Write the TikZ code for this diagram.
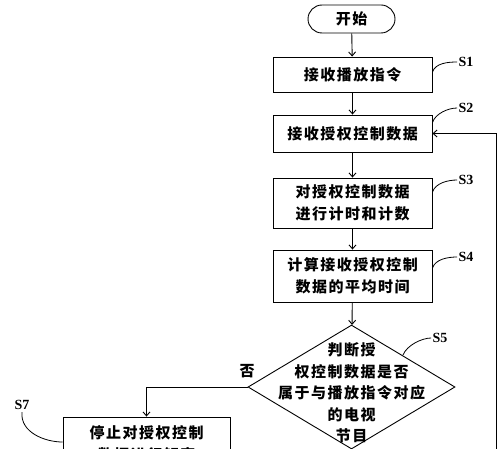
\documentclass[tikz,border=0pt]{standalone}
\usepackage{fontspec}
\setmainfont{Liberation Serif}
\newfontfamily\cjk{Noto Sans CJK SC}[LetterSpace=10]
\usetikzlibrary{arrows.meta,shapes.geometric}
\begin{document}
\begin{tikzpicture}[x=1pt,y=-1pt,
  line width=0.9pt,
  box/.style={draw, line width=0.9pt, minimum width=159pt, align=center, inner sep=0pt,
    font=\cjk\bfseries\fontsize{15}{22}\selectfont},
  term/.style={draw, line width=0.9pt, rounded corners=14pt, minimum width=87pt, minimum height=28pt,
    inner sep=0pt, font=\cjk\bfseries\fontsize{15}{22}\selectfont},
  dtext/.style={align=center, inner sep=0pt, font=\cjk\bfseries\fontsize{15}{21.5}\selectfont},
  lab/.style={inner sep=0pt, font=\bfseries\fontsize{14}{14}\selectfont},
  arr/.style={-{Straight Barb[length=4pt,width=7pt]}, line width=0.9pt},
  lead/.style={line width=0.8pt}]
\useasboundingbox (0,0) rectangle (500,449);
\clip (0,0) rectangle (500,449);

\node[term] (start) at (351.5,19) {开始};
\node[box, minimum height=35pt] (s1) at (352.5,74.5) {接收播放指令};
\node[box, minimum height=37pt] (s2) at (352.5,133.5) {接收授权控制数据};
\node[box, minimum height=50pt] (s3) at (352.5,203) {对授权控制数据\\进行计时和计数};
\node[box, minimum height=52pt] (s4) at (352.5,276) {计算接收授权控制\\数据的平均时间};
\node[diamond, draw, line width=0.9pt, minimum width=207pt, minimum height=124pt, inner sep=0pt] (s5) at (351.5,387) {};
\node[dtext] (t5) at (351.5,393) {判断授\\权控制数据是否\\属于与播放指令对应\\的电视\\节目};
\node[box, minimum width=167pt, minimum height=54pt] (s7) at (146.5,444) {停止对授权控制\\数据进行解密};
\node[dtext] (no) at (247,371) {否};

\coordinate (fbot) at (496,470);
\coordinate (d5s) at (403,355);

\draw[arr] (start) -- (s1);
\draw[arr] (s1) -- (s2);
\draw[arr] (s2) -- (s3);
\draw[arr] (s3) -- (s4);
\draw[arr] (s4) -- (s5);
\draw[arr] (s5.west) -| (s7.north);
\draw[arr] (fbot) |- (s2.east);

\node[lab] (l1) at (466,62) {S1};
\node[lab] (l2) at (466,108) {S2};
\node[lab] (l3) at (466,180) {S3};
\node[lab] (l4) at (466,257) {S4};
\node[lab] (l5) at (440,338) {S5};
\node[lab] (l7) at (22,405) {S7};

\draw[lead] ([yshift=2.5pt]s1.east) .. controls +(3,-9) and +(-9,0) .. ([xshift=-1pt]l1.west);
\draw[lead] ([yshift=11pt]s2.east) .. controls +(3,-9) and +(-9,0) .. ([xshift=-1pt]l2.west);
\draw[lead] ([yshift=11pt]s3.east) .. controls +(3,-9) and +(-9,0) .. ([xshift=-1pt]l3.west);
\draw[lead] ([yshift=8pt]s4.east) .. controls +(3,-9) and +(-9,0) .. ([xshift=-1pt]l4.west);
\draw[lead] (d5s) .. controls +(4,-10) and +(-9,0) .. ([xshift=-1pt]l5.west);
\draw[lead] ([yshift=-2pt]l7.south) .. controls +(-2,20) and +(-18,0) .. ([yshift=2pt]s7.west);
\end{tikzpicture}
\end{document}
